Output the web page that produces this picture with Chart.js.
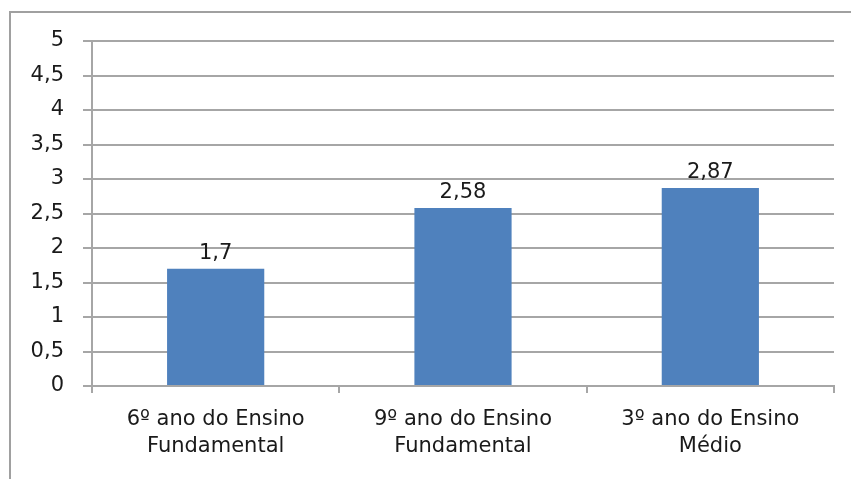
<!DOCTYPE html>
<html>
<head>
<meta charset="utf-8">
<script src="https://cdn.jsdelivr.net/npm/chart.js@4"></script>
<style>
  html, body { margin: 0; padding: 0; background: #fff; overflow: hidden; }
  canvas { display: block; }
</style>
</head>
<body>
<canvas id="grafico" width="851" height="479"></canvas>
<script>
var categorias = [
    ["6º ano do Ensino", "Fundamental"],
    ["9º ano do Ensino", "Fundamental"],
    ["3º ano do Ensino", "Médio"]
]
var valores = [1.7, 2.58, 2.87]
var rotulos_valores = ["1,7", "2,58", "2,87"]

var COR_BARRA = "#4F81BD"
var COR_GRADE = "#a6a6a6"
var COR_TEXTO = "#1a1a1a"
var FONTE = "'DejaVu Sans', sans-serif"

function virgula(v){
    return String(v).replace(".", ",")
}

// moldura cinza do grafico (so esquerda e topo aparecem)
var molduraPlugin = {
    id: "moldura",
    beforeDraw: function(chart){
        var ctx = chart.ctx
        ctx.save()
        ctx.strokeStyle = "#a0a0a0"
        ctx.lineWidth = 2
        ctx.beginPath()
        ctx.moveTo(10, 479)
        ctx.lineTo(10, 12)
        ctx.lineTo(851, 12)
        ctx.stroke()
        ctx.restore()
    }
}

// escreve o valor em cima de cada barra
var rotulosPlugin = {
    id: "rotulos",
    afterDatasetsDraw: function(chart){
        var ctx = chart.ctx
        var meta = chart.getDatasetMeta(0)
        ctx.save()
        ctx.font = "21px " + FONTE
        ctx.fillStyle = COR_TEXTO
        ctx.textAlign = "center"
        ctx.textBaseline = "alphabetic"
        meta.data.forEach(function(barra, i){
            ctx.fillText(rotulos_valores[i], barra.x, barra.y - 10)
        })
        ctx.restore()
    }
}

var chart = new Chart(document.getElementById("grafico"), {
    type: "bar",
    data: {
        labels: categorias,
        datasets: [{
            data: valores,
            backgroundColor: COR_BARRA,
            borderWidth: 0,
            barPercentage: 0.6,
            categoryPercentage: 0.655,
        }]
    },
    options: {
        responsive: false,
        animation: false,
        layout: { padding: { left: 0, right: 17, top: 41, bottom: 0 } },
        plugins: {
            legend: { display: false },
            tooltip: { enabled: false },
        },
        scales: {
            y: {
                min: 0,
                max: 5,
                ticks: {
                    stepSize: 0.5,
                    color: COR_TEXTO,
                    font: { size: 21, family: FONTE },
                    padding: 19,
                    callback: function(v){ return virgula(v) },
                },
                grid: { color: COR_GRADE, lineWidth: 2, tickLength: 9 },
                border: { color: COR_GRADE, width: 2 },
                afterFit: function(scale){ scale.width = 92 },
            },
            x: {
                ticks: {
                    color: COR_TEXTO,
                    font: { size: 21, family: FONTE, lineHeight: 1.3 },
                    padding: 13,
                    maxRotation: 0,
                },
                grid: { offset: true, drawOnChartArea: false, color: COR_GRADE, lineWidth: 2, tickLength: 7 },
                border: { color: COR_GRADE, width: 2 },
                afterFit: function(scale){ scale.height = 93 },
            }
        }
    },
    plugins: [molduraPlugin, rotulosPlugin],
})
</script>
</body>
</html>
